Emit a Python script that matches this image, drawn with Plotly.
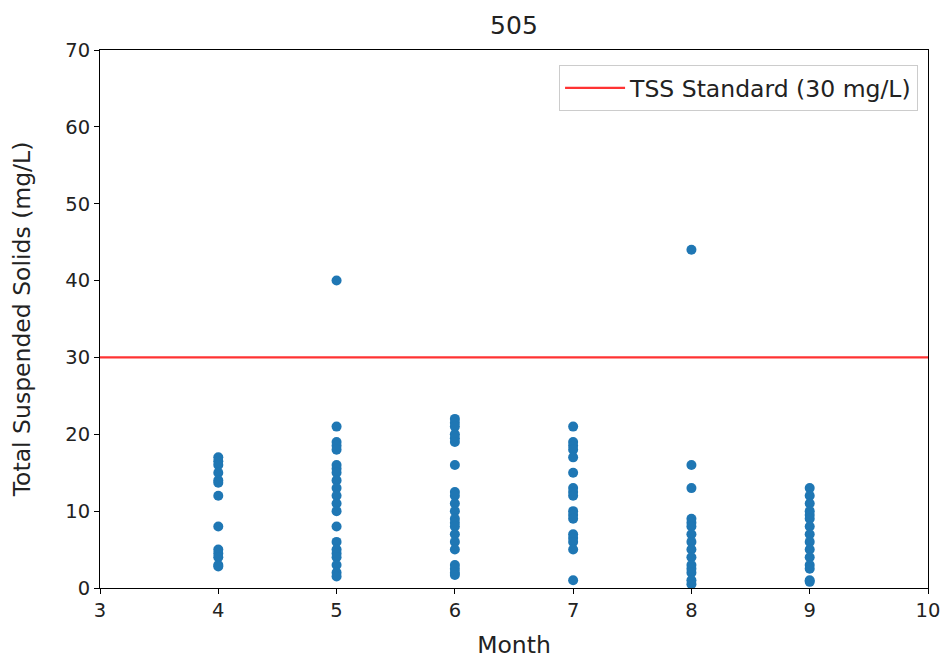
import plotly.graph_objects as go

months = [4, 5, 6, 7, 8, 9]
tss_by_month = {
    4: [17, 16.5, 16, 15, 14, 13.7, 12, 8, 5, 4.5, 4, 3, 2.8],
    5: [40, 21, 19, 18.5, 18, 16, 15.5, 15, 14, 13, 12, 11, 10, 8, 6, 5, 4.5, 4, 3, 2, 1.5],
    6: [22, 21.5, 21, 20, 19.5, 19, 16, 12.5, 12, 11, 10, 9, 8.5, 8, 7, 6, 5, 3, 2.5, 2, 1.7],
    7: [21, 19, 18.5, 18, 17, 15, 13, 12.5, 12, 10, 9.5, 9, 7, 6.5, 6, 5, 1],
    8: [44, 16, 13, 9, 8.5, 8, 7, 6, 5, 4, 3, 2.5, 2, 1, 0.5],
    9: [13, 12, 11, 10, 9.5, 9, 8, 7, 6, 5, 4, 3, 2.5, 1, 0.8],
}
standard = 30
x_range = [3, 10]
y_range = [0, 70]
x_ticks = [3, 4, 5, 6, 7, 8, 9, 10]
y_ticks = [0, 10, 20, 30, 40, 50, 60, 70]

xs, ys = [], []
for m in months:
    for v in tss_by_month[m]:
        xs.append(m)
        ys.append(v)

fig = go.Figure()
fig.add_trace(go.Scatter(x=xs, y=ys, mode="markers",
                         marker=dict(color="#1f77b4", size=10, line=dict(width=0)),
                         showlegend=False, cliponaxis=False))
fig.add_trace(go.Scatter(x=x_range, y=[standard, standard], mode="lines",
                         line=dict(color="#f33", width=2.2),
                         name="TSS Standard (30 mg/L)"))

axis_common = dict(showgrid=False, zeroline=False, showline=True, linecolor="black",
                   linewidth=1, mirror=True, ticks="outside", ticklen=5, tickcolor="black",
                   tickfont=dict(size=19.5, color="#222"), automargin=False)
fig.update_xaxes(range=x_range, tickvals=x_ticks,
                 title=dict(text="Month", font=dict(size=23.5, color="#222"), standoff=18),
                 **axis_common)
fig.update_yaxes(range=y_range, tickvals=y_ticks,
                 title=dict(text="Total Suspended Solids (mg/L)", font=dict(size=23.5, color="#222"), standoff=28),
                 **axis_common)

fig.update_layout(
    width=942, height=659,
    margin=dict(l=100, r=14, t=50, b=71),
    paper_bgcolor="white", plot_bgcolor="white",
    font=dict(family="DejaVu Sans", color="#222"),
    title=dict(text="505", x=0.5456, xanchor="center", y=0.962, yanchor="middle", font=dict(size=25, color="#222")),
    legend=dict(x=0.988, y=0.972, xanchor="right", yanchor="top", bgcolor="white",
                bordercolor="#ccc", borderwidth=1, font=dict(size=23.5, color="#222"),
                itemwidth=60),
)

fig.write_html("out.html")
